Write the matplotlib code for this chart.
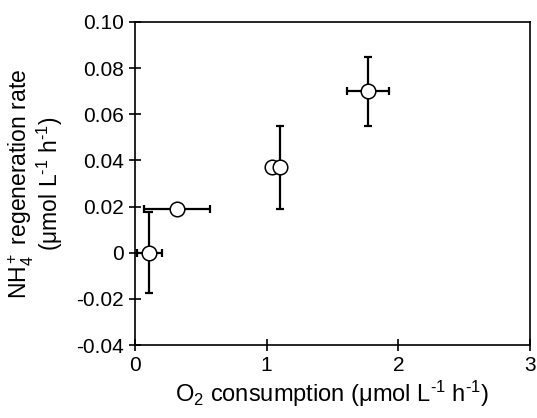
import numpy as np
import matplotlib
matplotlib.use("Agg")
import matplotlib.pyplot as plt

plt.rcParams['font.family'] = ['Liberation Sans', 'DejaVu Sans']
plt.rcParams['mathtext.fontset'] = 'custom'
plt.rcParams['mathtext.rm'] = 'Liberation Sans'
plt.rcParams['mathtext.it'] = 'Liberation Sans'

# data
o2 = [0.11, 0.32, 1.04, 1.10, 1.77]
o2_err = [0.095, 0.25, 0.0, 0.0, 0.16]
nh4 = [0.0, 0.019, 0.037, 0.037, 0.070]
nh4_err = [0.0175, 0.0, 0.0, 0.018, 0.015]

xticks = [0, 1, 2, 3]
yticks = [-0.04, -0.02, 0, 0.02, 0.04, 0.06, 0.08, 0.10]
yticklabels = ['-0.04', '-0.02', '0', '0.02', '0.04', '0.06', '0.08', '0.10']

fig = plt.figure(figsize=(5.37, 4.18), dpi=100)
ax = fig.add_axes([0.2514, 0.1746, 0.7356, 0.7728])

ax.errorbar(o2, nh4, xerr=o2_err, yerr=nh4_err, fmt='none',
            ecolor='black', elinewidth=1.6, capsize=3, capthick=1.6, zorder=2)
ax.plot(o2, nh4, 'o', markersize=10.5, markerfacecolor='white',
        markeredgecolor='black', markeredgewidth=1.1, zorder=3)

ax.set_xlim(0, 3)
ax.set_ylim(-0.04, 0.10)
ax.set_xticks(xticks)
ax.set_yticks(yticks)
ax.set_yticklabels(yticklabels)
ax.tick_params(direction='inout', length=8, width=1.2, labelsize=15, pad=4)
for s in ax.spines.values():
    s.set_linewidth(1.2)

unit = r'(μmol L$^{\text{-1}}$ h$^{\text{-1}}$)'
ax.set_xlabel('O$_2$ consumption ' + unit, fontsize=17, labelpad=3)
ax.set_ylabel('NH$_4^+$ regeneration rate\n' + unit, fontsize=16.5,
              linespacing=0.95)
ax.yaxis.set_label_coords(-0.177, 0.5)

fig.savefig('out.png', dpi=100)
